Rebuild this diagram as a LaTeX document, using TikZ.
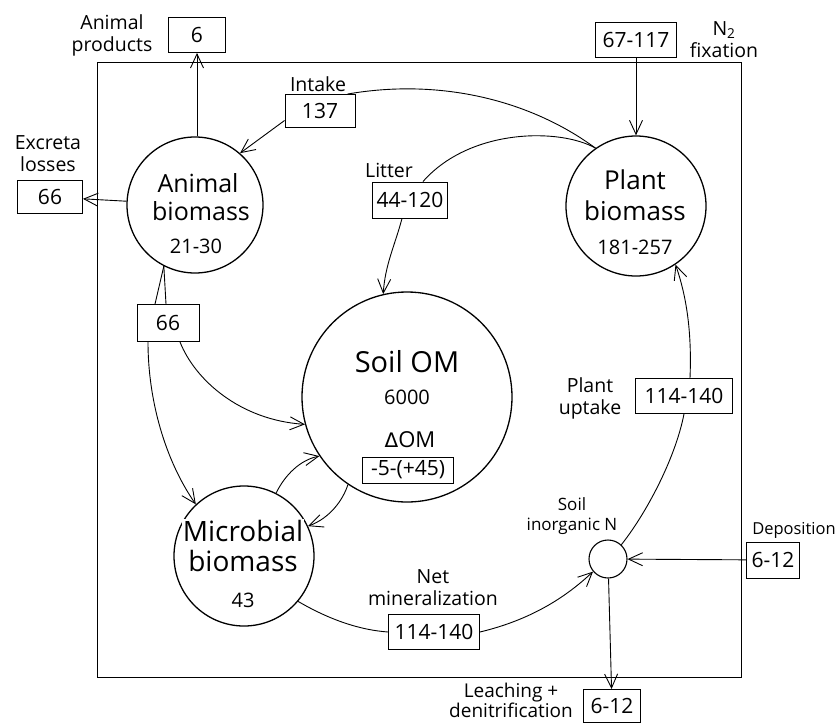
\documentclass[tikz,border=0pt]{standalone}
\usepackage{fontspec}
\setmainfont{Open Sans}
\newfontfamily\dejavu{DejaVu Sans}
\usetikzlibrary{arrows.meta}
\newcommand\mybig{\fontsize{26}{29}\selectfont}
\newcommand\mymid{\fontsize{22}{24}\selectfont}
\newcommand\myval{\fontsize{20}{22}\selectfont}
\newcommand\mylbl{\fontsize{19.5}{22}\selectfont}
\newcommand\mybox{\fontsize{21}{23}\selectfont}
\begin{document}
\begin{tikzpicture}[x=1pt,y=-1pt,
  pool/.style={circle, draw, line width=1.3pt, inner sep=0pt},
  flux/.style={draw, line width=0.9pt, inner sep=0pt, minimum height=34pt, font=\mybox, fill=white},
  lbl/.style={align=center, font=\mylbl, inner sep=0pt},
  big/.style={font=\mybig, inner sep=0pt},
  val/.style={font=\myval, inner sep=0pt},
  conn/.style={line width=0.9pt},
  arr/.style={conn, -{Straight Barb[length=14pt,width=13pt]}}]
\useasboundingbox (0,0) rectangle (835,726);
% frame
\draw[line width=0.9pt] (97,62) rectangle (741,677);
% pools
\node[pool, minimum size=136pt] (A) at (195,205) {};
\node[pool, minimum size=140pt] (P) at (636,206) {};
\node[pool, minimum size=210pt] (S) at (407,397) {};
\node[pool, minimum size=140pt] (M) at (244,556) {};
\node[pool, minimum size=38pt, line width=1.1pt] (N) at (608,559) {};
% pool texts
\node[big, font=\fontsize{25}{28}\selectfont] (At1) at (198,183) {Animal};
\node[big, font=\fontsize{25}{28}\selectfont] (At2) at (201,211) {biomass};
\node[val] (Av) at (196,246) {21-30};
\node[big] (Pt1) at (635,180) {Plant};
\node[big] (Pt2) at (635,211) {biomass};
\node[val] (Pv) at (635,247) {181-257};
\node[big, font=\fontsize{29}{32}\selectfont] (St) at (407,362) {Soil OM};
\node[val] (Sv) at (407,397) {6000};
\node[font=\mymid, inner sep=0pt] (Sd) at (410,440) {{\dejavu\fontsize{20}{22}\selectfont Δ}OM};
\node[flux, minimum width=91pt, minimum height=26pt] (Sb) at (408,470) {-5-(+45)};
\node[big, font=\fontsize{28}{31}\selectfont, fill=white, inner sep=1pt] (Mt1) at (243,531) {Microbial};
\node[big, font=\fontsize{28}{31}\selectfont] (Mt2) at (243,561) {biomass};
\node[val] (Mv) at (243,600) {43};
% flux boxes
\node[flux, minimum width=57pt, minimum height=35pt] (box6) at (197,35) {6};
\node[flux, minimum width=70pt, minimum height=33pt] (i137) at (320,111) {137};
\node[flux, minimum width=65pt, minimum height=33pt] (ex66) at (50,197) {66};
\node[flux, minimum width=75pt, minimum height=36pt] (lit) at (410,200) {44-120};
\node[flux, minimum width=81pt, minimum height=35pt] (n2) at (636,40) {67-117};
\node[flux, minimum width=97pt, minimum height=35pt] (up) at (684,396) {114-140};
\node[flux, minimum width=53pt, minimum height=36pt] (dep) at (773,560) {6-12};
\node[flux, minimum width=62pt, minimum height=37pt] (m66) at (168,323) {66};
\node[flux, minimum width=91pt, minimum height=35pt] (min) at (434,632) {114-140};
\node[flux, minimum width=57pt, minimum height=33pt] (leach) at (612,706) {6-12};
% labels
\node[lbl] (Lap) at (112,35) {Animal\\products};
\node[lbl] (Lex) at (48,154) {Excreta\\losses};
\node[lbl] (Lin) at (318,84) {Intake};
\node[lbl] (Lli) at (389,170) {Litter};
\node[lbl] (Lfx) at (724,40) {N\textsubscript{2}\\fixation};
\node[lbl] (Lpu) at (590,398) {Plant\\uptake};
\node[lbl, font=\fontsize{17}{20}\selectfont] (Lsn) at (572,516) {Soil\\inorganic N};
\node[lbl, font=\fontsize{16.5}{20}\selectfont] (Lde) at (794,530) {Deposition};
\node[lbl] (Lnm) at (433,588) {Net\\mineralization};
\node[lbl, font=\fontsize{19}{20}\selectfont] (Lld) at (511,700) {Leaching +\\denitrification};
% connectors
\draw[arr] (box6.south |- A.north) -- (box6.south);
\draw[arr] (A) -- (ex66);
\draw[conn] (P.125) .. controls (530,100) and (440,78) .. ([xshift=-8pt]i137.north east);
\draw[arr] (i137.195) -- (A.49);
\draw[conn] (P.125) .. controls (560,128) and (470,128) .. ([xshift=13pt]lit.north);
\draw[arr] ([xshift=-8pt]lit.south) .. controls (395,245) and (385,265) .. (S.103);
\draw[arr] (n2) -- (P);
\draw[conn] (N.47) .. controls (645,515) and (675,460) .. (up.south);
\draw[arr] ([xshift=6pt]up.north) .. controls (692,330) and (686,295) .. (P.-56);
\draw[arr] (dep) -- (N);
\draw[arr] (N) -- (leach);
\draw[conn] (M.-40) .. controls (330,620) and (360,630) .. (min.west);
\draw[arr] (min.east) .. controls (530,620) and (565,598) .. (N.220);
\draw[conn] (A.-117) -- ([xshift=-13pt]m66.north);
\draw[conn] (A.-117) -- ([xshift=-2pt]m66.north);
\draw[arr] ([xshift=-20pt]m66.south) .. controls (148,400) and (165,460) .. (M.133);
\draw[arr] ([xshift=12pt]m66.south) .. controls (195,380) and (240,420) .. (S.195);
\draw[arr] (M.63) .. controls (285,475) and (300,460) .. (S.214);
\draw[arr] (S.236) .. controls (343,500) and (330,518) .. (M.25);
\end{tikzpicture}
\end{document}
